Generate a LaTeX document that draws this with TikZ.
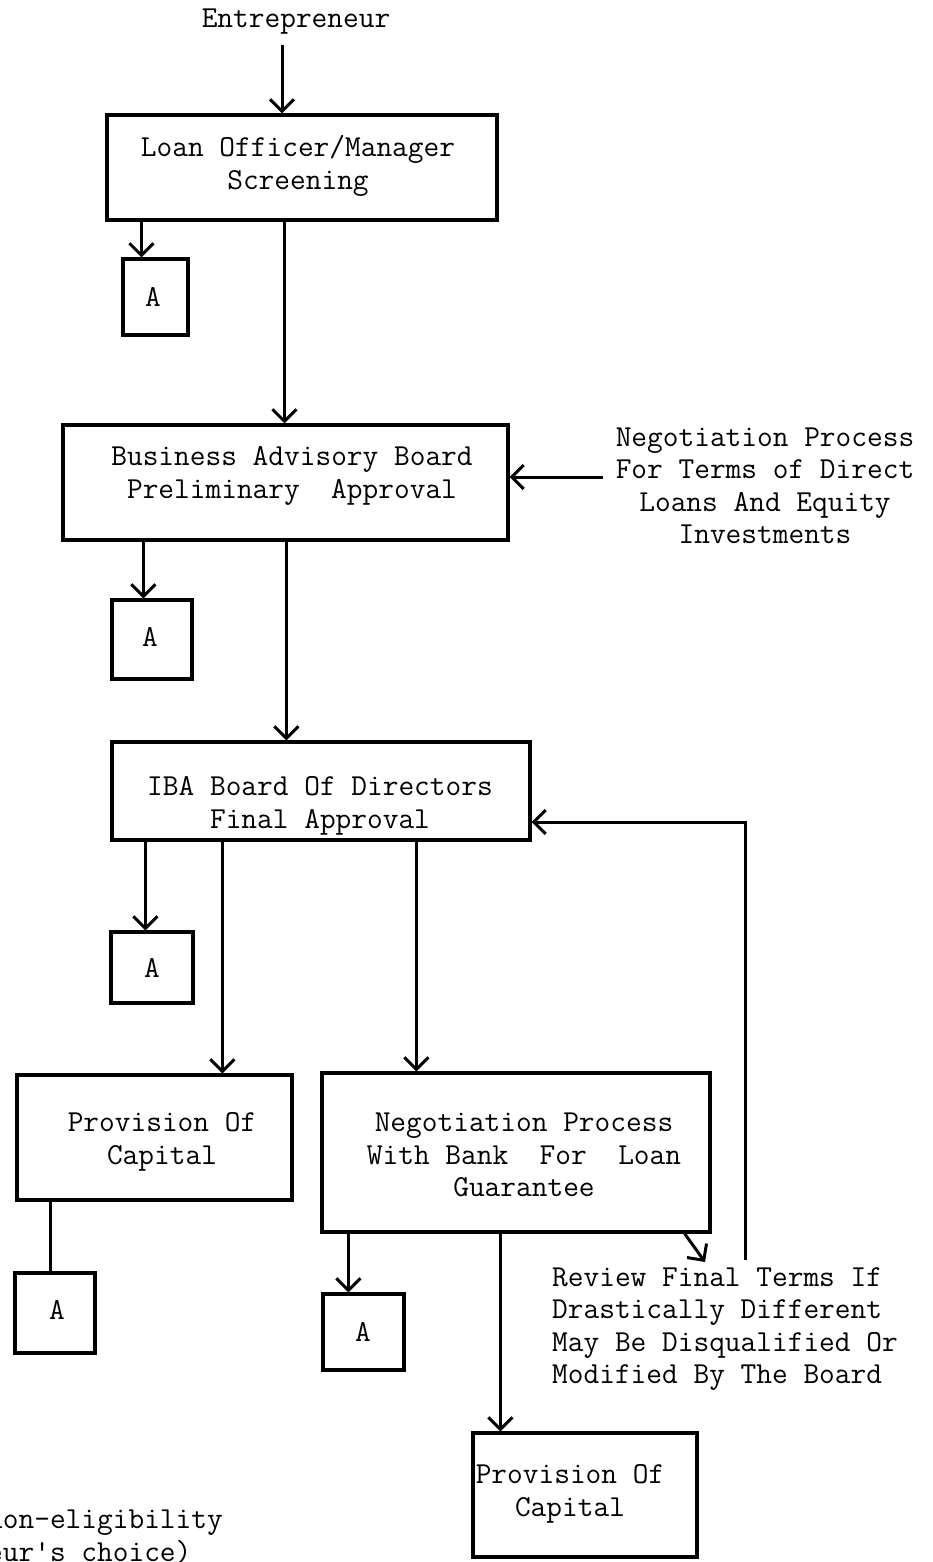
\documentclass[tikz,border=0pt]{standalone}
\usepackage{fontspec}
\usetikzlibrary{arrows.meta}
\begin{document}
\begin{tikzpicture}[x=1pt,y=-1pt,
  box/.style={draw, line width=3.2pt, inner sep=0pt, rectangle},
  txt/.style={font=\ttfamily\addfontfeatures{FakeBold=1.3}\fontsize{30.5}{32.5}\selectfont, align=center, inner sep=0pt},
  arr/.style={line width=3pt, -{Straight Barb[length=12pt,width=24pt,line width=3pt]}},
  ln/.style={line width=3pt}]
\useasboundingbox (0,0) rectangle (932,1562);
% boxes
\node[box, minimum width=390pt, minimum height=105pt] (b1) at (302,167.5) {};
\node[box, minimum width=445pt, minimum height=115pt] (b2) at (285.5,482.5) {};
\node[box, minimum width=418pt, minimum height=98pt] (b3) at (321,791) {};
\node[box, minimum width=275pt, minimum height=125pt] (b4) at (154.5,1137.5) {};
\node[box, minimum width=388pt, minimum height=159pt] (b5) at (516,1152.5) {};
\node[box, minimum width=224pt, minimum height=124pt] (b6) at (585,1495) {};
% A boxes
\node[box, minimum width=65pt, minimum height=76pt] (a1) at (155.5,297) {};
\node[box, minimum width=80pt, minimum height=79pt] (a2) at (152,639.5) {};
\node[box, minimum width=82pt, minimum height=71pt] (a3) at (152,967.5) {};
\node[box, minimum width=80pt, minimum height=80pt] (a4) at (55,1313) {};
\node[box, minimum width=81pt, minimum height=76pt] (a5) at (363.5,1332) {};
% texts
\node[txt] (ent) at (296,22) {Entrepreneur};
\node[txt] (t1) at (298,166) {Loan Officer/Manager\\Screening};
\node[txt] (t2) at (292,476) {Business Advisory Board\\Preliminary\ \ Approval};
\node[txt] (t3) at (320,806) {IBA Board Of Directors\\Final Approval};
\node[txt] (t4) at (162,1142) {Provision Of\\Capital};
\node[txt] (t5) at (524,1155) {Negotiation Process\\With Bank\ \ For\ \ Loan\\Guarantee};
\node[txt] (t6) at (570,1494) {Provision Of\\Capital};
\node[txt] (ta1) at (153,297) {A};
\node[txt] (ta2) at (150,637) {A};
\node[txt] (ta3) at (152,968) {A};
\node[txt] (ta4) at (57,1310) {A};
\node[txt] (ta5) at (363,1332) {A};
\node[txt] (neg) at (765,486) {Negotiation Process\\For Terms of Direct\\Loans And Equity\\Investments};
\node[txt, align=left, anchor=west] (rev) at (552,1329) {Review Final Terms If\\Drastically Different\\May Be Disqualified Or\\Modified By The Board};
\node[txt, align=left, anchor=west] (note) at (-13,1537) {non-eligibility\\eur's choice)};
% connectors
\draw[arr] ([xshift=-14pt]ent.south) ++(0,10) coordinate (c0) -- (c0 |- b1.north);
\draw[arr] ([xshift=36pt]b1.south west) coordinate (c1) -- (c1 |- a1.north);
\draw[arr] ([xshift=179pt]b1.south west) coordinate (c2) -- (c2 |- b2.north);
\draw[arr] ([xshift=-13pt,yshift=9pt]neg.west) coordinate (c3) -- (c3 -| b2.east);
\draw[arr] ([xshift=82pt]b2.south west) coordinate (c4) -- (c4 |- a2.north);
\draw[arr] ([xshift=225pt]b2.south west) coordinate (c5) -- (c5 |- b3.north);
\draw[arr] ([xshift=35pt]b3.south west) coordinate (c6) -- (c6 |- a3.north);
\draw[arr] ([xshift=112pt]b3.south west) coordinate (c7) -- (c7 |- b4.north);
\draw[arr] ([xshift=306pt]b3.south west) coordinate (c8) -- (c8 |- b5.north);
\coordinate (fb) at (745,1260);
\draw[arr] (fb) |- ([yshift=-31pt]b3.east);
\draw[ln] ([xshift=35pt]b4.south west) coordinate (c9) -- (c9 |- a4.north);
\draw[arr] ([xshift=28pt]b5.south west) coordinate (c10) -- (c10 |- a5.north);
\draw[arr] ([xshift=180pt]b5.south west) coordinate (c11) -- (c11 |- b6.north);
\coordinate (rv) at (705,1262);
\draw[arr] ([xshift=-27pt]b5.south east) -- (rv);
\end{tikzpicture}
\end{document}
